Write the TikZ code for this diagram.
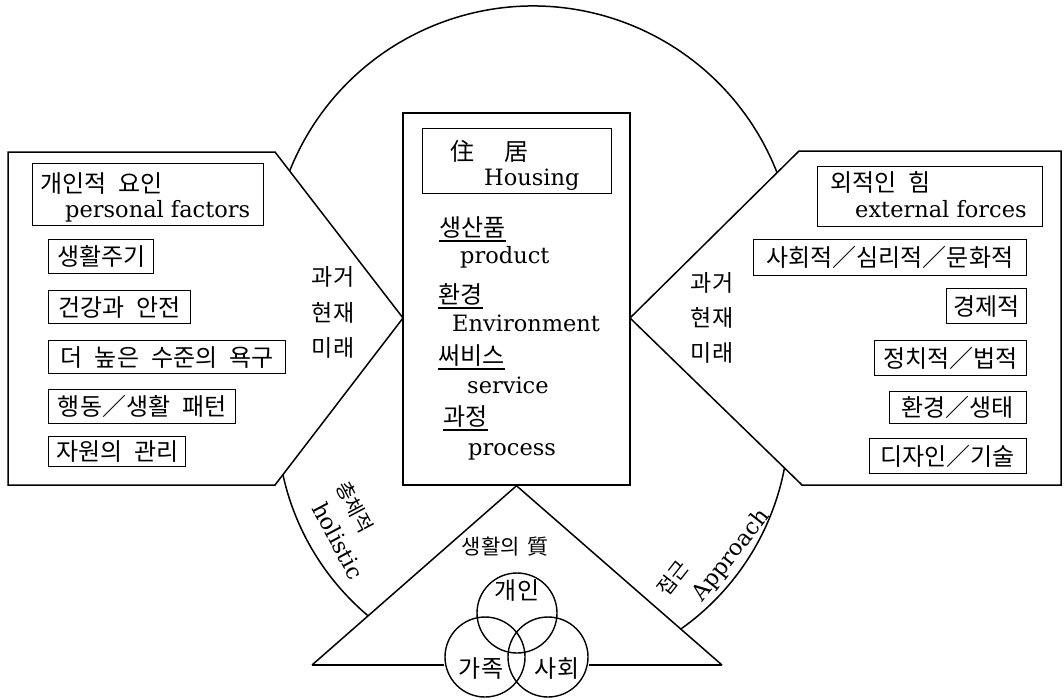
\documentclass[tikz,border=0pt]{standalone}
\usepackage{fontspec}
\setmainfont{DejaVu Serif}
\newfontfamily\kr{Noto Sans CJK KR}
\newcommand\ksp{\hspace{0.5em}}
\begin{document}
\begin{tikzpicture}[x=1pt,y=-1pt,
  outl/.style={line width=1.5pt, line join=miter},
  kbox/.style={draw, line width=1.4pt, inner sep=0pt, font=\kr\fontsize{24pt}{26pt}\selectfont},
  frame/.style={draw, line width=1.4pt, inner sep=0pt},
  ktxt/.style={inner sep=0pt, font=\kr\fontsize{24pt}{26pt}\selectfont},
  kmid/.style={inner sep=0pt, font=\kr\fontsize{23pt}{25pt}\selectfont},
  etxt/.style={inner sep=0pt, font=\fontsize{22.5pt}{25pt}\selectfont},
  arclab/.style={inner sep=0pt, align=left, font=\fontsize{22.5pt}{31pt}\selectfont},
  uline/.style={line width=1.3pt},
  ring/.style={circle, draw, line width=1.4pt, minimum size=80pt, inner sep=0pt}]
\useasboundingbox (0,0) rectangle (1064,699);
\fill[white] (0,0) rectangle (1064,699);

% centre box
\node[frame, line width=1.5pt, minimum width=227pt, minimum height=372pt] (housing) at (516.5,299) {};
\node[frame, minimum width=189pt, minimum height=65pt, anchor=north west] (htitle) at (422,128) {};
\node[ktxt, anchor=base west] (h1) at (450,160) {住\hspace{30pt}居};
\node[etxt, anchor=base west] (h2) at (484,185) {Housing};

\node[ktxt, anchor=base west] (c1) at (439,236) {생산품};
\node[etxt, anchor=base west] (e1) at (460,263) {product};
\node[ktxt, anchor=base west] (c2) at (438,303) {환경};
\node[etxt, anchor=base west] (e2) at (452,331) {Environment};
\node[ktxt, anchor=base west] (c3) at (438,364) {써비스};
\node[etxt, anchor=base west] (e3) at (467,393) {service};
\node[ktxt, anchor=base west] (c4) at (443,425) {과정};
\node[etxt, anchor=base west] (e4) at (468,455) {process};
\foreach \n in {c1,c2,c3,c4}
  \draw[uline] ([yshift=-5pt]\n.base west) -- ([yshift=-5pt]\n.base east);

% left panel
\coordinate (la) at (403,318);
\draw[outl] (8,152) -- (275,152) -- (la) -- (275,485) -- (8,485) -- cycle;
\node[frame, minimum width=231pt, minimum height=62pt, anchor=north west] (ltitle) at (32,163) {};
\node[ktxt, anchor=base west] (lt1) at (40,192) {개인적\ksp 요인};
\node[etxt, anchor=base west] (lt2) at (65,217) {personal factors};
\node[kbox, minimum width=105pt, minimum height=34pt, anchor=north west] (l1) at (48,239) {생활주기};
\node[kbox, minimum width=142pt, minimum height=33pt, anchor=north west] (l2) at (48,290) {건강과\ksp 안전};
\node[kbox, minimum width=237pt, minimum height=33pt, anchor=north west] (l3) at (48,340) {더\ksp 높은\ksp 수준의\ksp 욕구};
\node[kbox, minimum width=187pt, minimum height=34pt, anchor=north west] (l4) at (48,389) {행동／생활\ksp 패턴};
\node[kbox, minimum width=137pt, minimum height=30pt, anchor=north west] (l5) at (48,436) {자원의\ksp 관리};
\node[kmid] (lp1) at (333,277) {과거};
\node[kmid] (lp2) at (333,313) {현재};
\node[kmid] (lp3) at (333,348) {미래};

% right panel
\coordinate (ra) at (630,318);
\draw[outl] (1061,151) -- (799,151) -- (ra) -- (802,485) -- (1061,485) -- cycle;
\node[frame, minimum width=225pt, minimum height=60pt, anchor=north west] (rtitle) at (817,166) {};
\node[ktxt, anchor=base west] (rt1) at (830,191) {외적인\ksp 힘};
\node[etxt, anchor=base west] (rt2) at (855,217) {external forces};
\node[kbox, minimum width=273pt, minimum height=36pt, anchor=north east] (r1) at (1027,239) {사회적／심리적／문화적};
\node[kbox, minimum width=80pt, minimum height=35pt, anchor=north east] (r2) at (1027,288) {경제적};
\node[kbox, minimum width=152pt, minimum height=35pt, anchor=north east] (r3) at (1027,340) {정치적／법적};
\node[kbox, minimum width=137pt, minimum height=32pt, anchor=north east] (r4) at (1027,391) {환경／생태};
\node[kbox, minimum width=157pt, minimum height=35pt, anchor=north east] (r5) at (1027,438) {디자인／기술};
\node[kmid] (rp1) at (712,283) {과거};
\node[kmid] (rp2) at (712,318) {현재};
\node[kmid] (rp3) at (712,353) {미래};

% arcs
\draw[outl] ([shift={(533,268)}]201.7:262) arc[start angle=201.7, end angle=338.67, radius=262];
\draw[outl] ([shift={(533,420)}]167.7:256) arc[start angle=167.7, end angle=130.1, radius=256];
\draw[outl] ([shift={(533,420)}]10.8:256) arc[start angle=10.8, end angle=54.8, radius=256];

% arc labels
\node[arclab, rotate=-62] (hol) at (350,530) {{\kr\fontsize{20pt}{22pt}\selectfont 총체적}\\\hspace{8pt}holistic};
\node[arclab, rotate=52] (appr) at (714,553) {{\kr\fontsize{20pt}{22pt}\selectfont 접근}\\\hspace{17pt}Approach};

% triangle and circles
\coordinate (tl) at (312,665);
\coordinate (tr) at (722,665);
\node[ring] (ind) at (517,613) {};
\node[ring] (fam) at (485,657) {};
\node[ring] (soc) at (548,657) {};
\draw[outl] (tl) -- (housing.south) -- (tr);
\draw[outl] (tl) -- (tl -| fam.west);
\draw[outl] (tr) -- (tr -| soc.east);
\node[inner sep=0pt, font=\kr\fontsize{21pt}{23pt}\selectfont] (qol) at (505,547) {생활의\hspace{0.35em}質};
\node[ktxt] (indt) at (517,591) {개인};
\node[ktxt] (famt) at (481,668) {가족};
\node[ktxt] (soct) at (557,668) {사회};
\end{tikzpicture}
\end{document}
